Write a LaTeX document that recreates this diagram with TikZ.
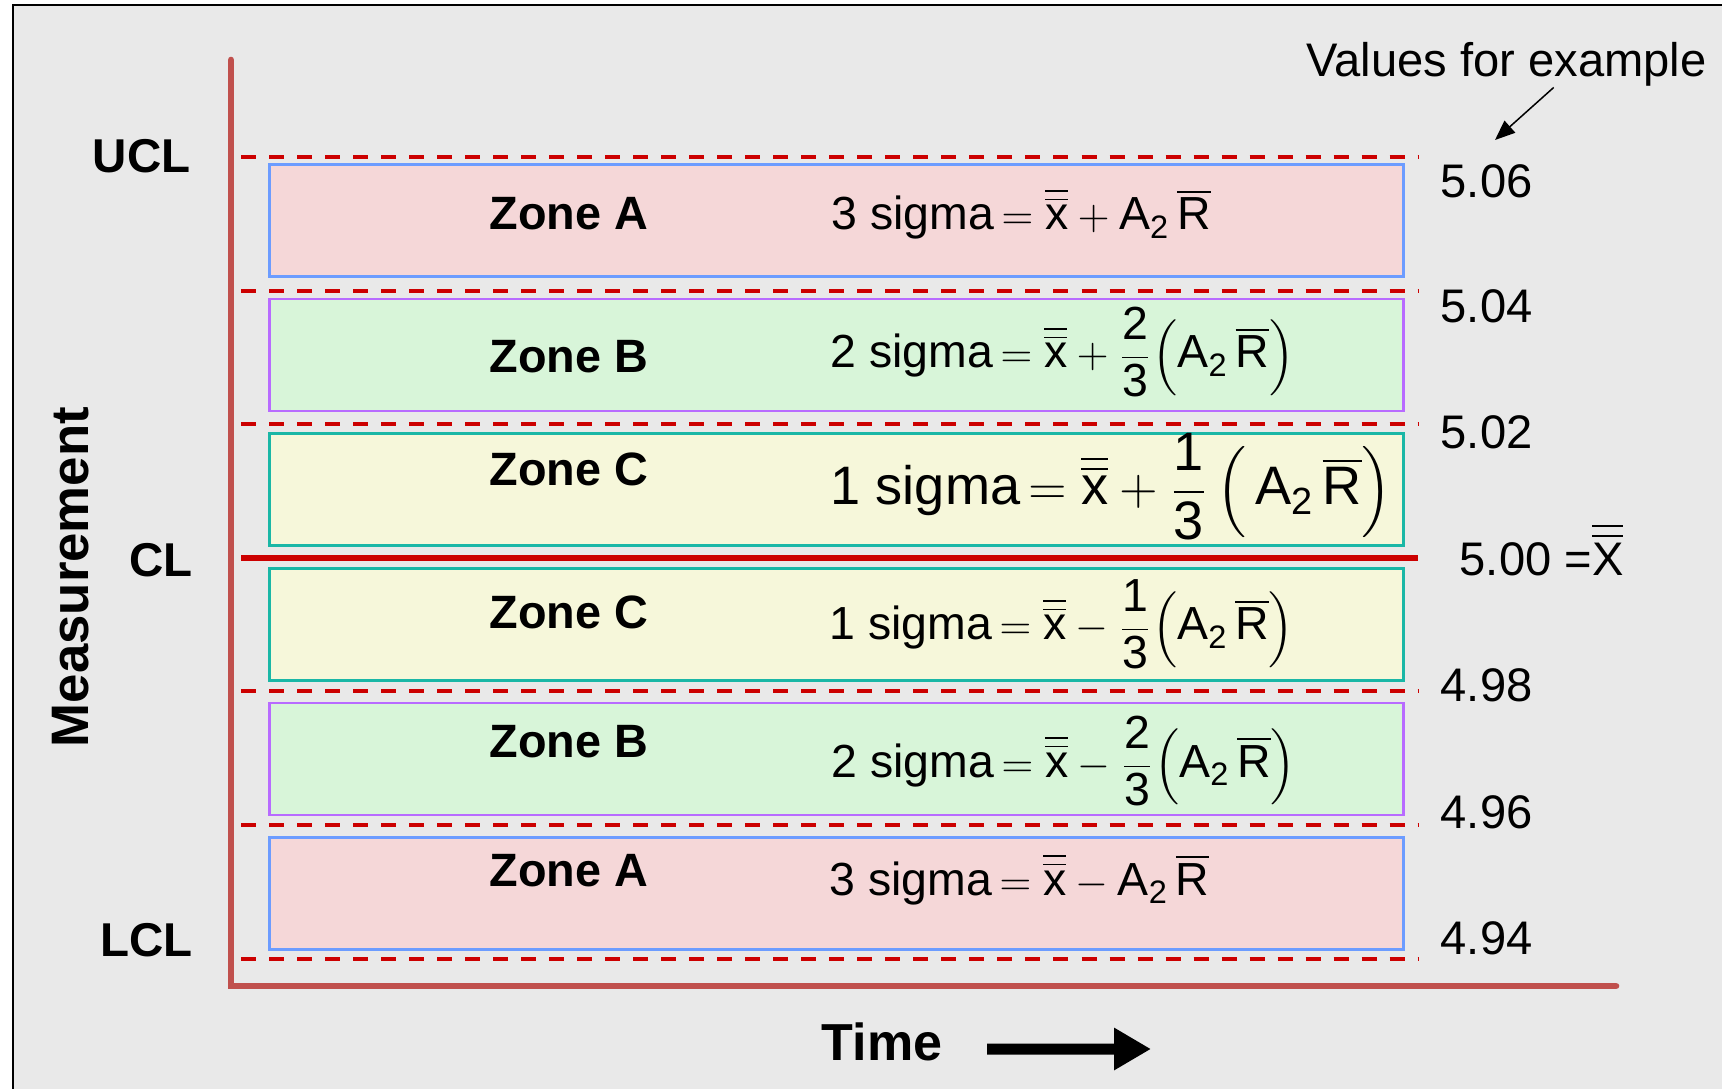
\documentclass[tikz,border=0pt]{standalone}
\usepackage{amsmath}
\usepackage{fontspec}
\setmainfont{Liberation Sans}
\usepackage{tikz}
\usetikzlibrary{arrows.meta, positioning}
\definecolor{ChartGray}{HTML}{E9E9E9}
\definecolor{AxisRed}{HTML}{C0504D}
\definecolor{LimitRed}{HTML}{CC0000}
\definecolor{ZoneAFill}{HTML}{F5D7D8}
\definecolor{ZoneADraw}{HTML}{6C9CFF}
\definecolor{ZoneBFill}{HTML}{D8F5D9}
\definecolor{ZoneBDraw}{HTML}{B86BFF}
\definecolor{ZoneCFill}{HTML}{F6F7DA}
\definecolor{ZoneCDraw}{HTML}{1AB7A6}
\newcommand{\xbb}{\overline{\overline{\text{x}}}}
\newcommand{\Rbar}{\overline{\text{R}}}
\newcommand{\Atwo}{\text{A}_{\text{2}}}

\begin{document}
\begin{tikzpicture}[x=0.01cm, y=-0.01cm,
  zonebox/.style={draw, line width=0.027cm, minimum width=11.33cm, minimum height=1.12cm, inner sep=0pt},
  zonelabel/.style={anchor=base, font=\bfseries\fontsize{13.3}{16}\selectfont, inner sep=0pt},
  formula/.style={anchor=base west, font=\fontsize{13.2}{16}\selectfont, inner sep=0pt},
  value/.style={anchor=base west, font=\fontsize{13.4}{16}\selectfont, inner sep=0pt},
  limitlabel/.style={anchor=base east, font=\bfseries\fontsize{13.5}{16}\selectfont, inner sep=0pt},
  limitline/.style={draw=LimitRed, line width=0.045cm, dash pattern=on 0.15cm off 0.13cm},
  axisline/.style={draw=AxisRed, line width=0.066cm, line cap=round}]
\useasboundingbox (0,0) rectangle (1722,1089);
\clip (0,0) rectangle (1722,1089);
% --- Frame ---
\fill[white] (0,0) rectangle (1722,1089);
\draw[fill=ChartGray, line width=0.025cm] (13,5) rectangle (1760,1120);
% --- Zone boxes ---
\node[zonebox, fill=ZoneAFill, draw=ZoneADraw] (boxA1) at (836.5,220.5) {};
\node[zonebox, fill=ZoneBFill, draw=ZoneBDraw] (boxB1) at (836.5,355) {};
\node[zonebox, fill=ZoneCFill, draw=ZoneCDraw] (boxC1) at (836.5,489.5) {};
\node[zonebox, fill=ZoneCFill, draw=ZoneCDraw] (boxC2) at (836.5,624.5) {};
\node[zonebox, fill=ZoneBFill, draw=ZoneBDraw] (boxB2) at (836.5,759) {};
\node[zonebox, fill=ZoneAFill, draw=ZoneADraw] (boxA2) at (836.5,893.5) {};
% --- Control limits ---
\draw[limitline] (241,157) -- (1418,157);
\draw[limitline] (241,291) -- (1418,291);
\draw[limitline] (241,424) -- (1418,424);
\draw[draw=LimitRed, line width=0.065cm] (241,558) -- (1418,558);
\draw[limitline] (241,691) -- (1418,691);
\draw[limitline] (241,825) -- (1418,825);
\draw[limitline] (241,959) -- (1418,959);
% --- Axes ---
\draw[axisline] (231,60) -- (231,986) -- (1616,986);
\node[limitlabel] (ucl) at (191,173) {UCL};
\node[limitlabel] (cl) at (193,577) {CL};
\node[limitlabel] (lcl) at (193,956) {LCL};
\node[rotate=90, font=\bfseries\fontsize{15}{18}\selectfont] (meas) at (71,577) {Measurement};
\node[font=\bfseries\fontsize{14.8}{18}\selectfont, inner sep=0pt] (time) at (882,1042) {Time};
\coordinate (timeend) at (1151,1049);
\draw[line width=0.11cm, -{Triangle[length=0.37cm, width=0.4cm]}] ([xshift=0.44cm, yshift=-0.07cm]time.east) -- (timeend);
% --- Zone labels ---
\node[zonelabel] (labA1) at (569,230) {Zone A};
\node[zonelabel] (labB1) at (569,373) {Zone B};
\node[zonelabel] (labC1) at (569,486) {Zone C};
\node[zonelabel] (labC2) at (569,629) {Zone C};
\node[zonelabel] (labB2) at (569,758) {Zone B};
\node[zonelabel] (labA2) at (569,886) {Zone A};
% --- Formulas ---
\node[formula] (eqA1) at (831,230) {$\text{3 sigma}\,{=}\;\xbb + \Atwo\,\Rbar$};
\node[formula] (eqB1) at (830,368) {$\text{2 sigma}\,{=}\;\xbb + \dfrac{\text{2}}{\text{3}}\Bigl(\Atwo\,\Rbar\Bigr)$};
\node[formula, font=\fontsize{15.4}{18}\selectfont] (eqC1) at (830,505) {$\text{1 sigma}\,{=}\;\xbb + \dfrac{\text{1}}{\text{3}}\,\Bigl(\,\Atwo\,\Rbar\Bigr)$};
\node[formula] (eqC2) at (829,640) {$\text{1 sigma}\,{=}\;\xbb - \dfrac{\text{1}}{\text{3}}\Bigl(\Atwo\,\Rbar\Bigr)$};
\node[formula] (eqB2) at (831,777) {$\text{2 sigma}\,{=}\;\xbb - \dfrac{\text{2}}{\text{3}}\Bigl(\Atwo\,\Rbar\Bigr)$};
\node[formula] (eqA2) at (829,895) {$\text{3 sigma}\,{=}\;\xbb - \Atwo\,\Rbar$};
% --- Example values ---
\node[value] (vals) at (1306,77) {Values for example};
\coordinate (valtip) at (1495,140);
\draw[line width=0.015cm, -{Triangle[length=0.2cm, width=0.16cm]}] ([xshift=0.47cm]vals.south) -- (valtip);
\node[value] (v506) at (1440,198) {5.06};
\node[value] (v504) at (1440,323) {5.04};
\node[value] (v502) at (1440,449) {5.02};
\node[value] (v500) at (1459,576) {5.00 =$\overline{\overline{\text{X}}}$};
\node[value] (v498) at (1440,702) {4.98};
\node[value] (v496) at (1440,828) {4.96};
\node[value] (v494) at (1440,954) {4.94};
\end{tikzpicture}
\end{document}
